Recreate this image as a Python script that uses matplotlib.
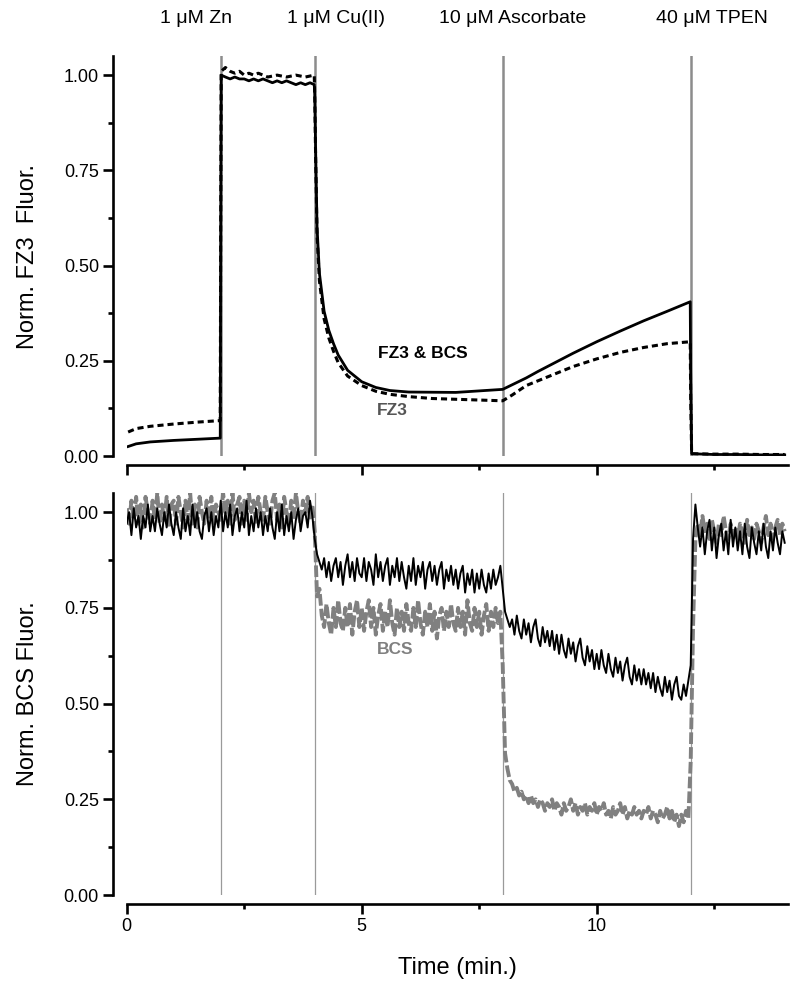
import numpy as np
import matplotlib
matplotlib.use("Agg")
import matplotlib.pyplot as plt
import matplotlib.transforms as mtransforms
from matplotlib.ticker import MultipleLocator, FormatStrFormatter

plt.rcParams['font.family'] = ['Liberation Sans', 'DejaVu Sans']

# ---- top panel: FZ3 fluorescence (smooth traces) ----
fz3_bcs_t = [0.03, 0.2, 0.5, 1.0, 1.5, 1.99,
             2.0, 2.01, 2.1, 2.2, 2.3, 2.4, 2.5, 2.6, 2.7, 2.8, 2.9, 3.0, 3.1, 3.2, 3.3,
             3.4, 3.5, 3.6, 3.7, 3.8, 3.9, 3.99,
             4.0, 4.02, 4.05, 4.1, 4.2, 4.3, 4.4, 4.5, 4.7, 5.0, 5.3, 5.6, 6.0, 7.0, 8.0,
             8.25, 8.5, 8.75, 9.0, 9.5, 10.0, 10.5, 11.0, 11.5, 11.99,
             12.0, 12.02, 12.5, 13.0, 13.5, 14.0]
fz3_bcs_v = [0.025, 0.032, 0.037, 0.041, 0.044, 0.047,
             0.60, 1.00, 0.995, 0.99, 0.995, 0.99, 0.99, 0.985, 0.99, 0.985, 0.99, 0.985, 0.98, 0.985, 0.98,
             0.985, 0.98, 0.975, 0.98, 0.975, 0.98, 0.975,
             0.95, 0.80, 0.60, 0.48, 0.38, 0.33, 0.295, 0.265, 0.225, 0.195, 0.18, 0.172, 0.168, 0.167, 0.175,
             0.19, 0.205, 0.222, 0.238, 0.27, 0.30, 0.328, 0.355, 0.38, 0.405,
             0.20, 0.006, 0.004, 0.004, 0.003, 0.003]

fz3_t = [0.03, 0.2, 0.5, 1.0, 1.5, 1.99,
         2.0, 2.01, 2.1, 2.2, 2.3, 2.4, 2.5, 2.6, 2.7, 2.8, 2.9, 3.0, 3.2, 3.4, 3.6, 3.8, 3.99,
         4.0, 4.02, 4.05, 4.1, 4.2, 4.3, 4.4, 4.5, 4.7, 5.0, 5.3, 5.6, 6.0, 6.5, 7.0, 7.5, 8.0,
         8.2, 8.5, 9.0, 9.5, 10.0, 10.5, 11.0, 11.5, 11.99,
         12.0, 12.02, 12.5, 13.0, 13.5, 14.0]
fz3_v = [0.063, 0.072, 0.078, 0.084, 0.089, 0.093,
         0.60, 1.01, 1.02, 1.01, 1.005, 1.01, 1.00, 1.005, 1.00, 1.005, 1.00, 0.995, 1.00, 0.995, 1.00, 0.995, 1.00,
         0.95, 0.78, 0.58, 0.46, 0.36, 0.31, 0.275, 0.245, 0.21, 0.185, 0.17, 0.162, 0.156, 0.151, 0.149, 0.147, 0.145,
         0.16, 0.185, 0.21, 0.235, 0.255, 0.272, 0.285, 0.295, 0.30,
         0.15, 0.006, 0.005, 0.005, 0.004, 0.004]

# ---- bottom panel: BCS fluorescence, sampled every 0.05 min from 0 to 14 ----
bcs_black = [
    0.97, 1.00, 0.94, 1.01, 0.96, 0.99, 0.93, 0.99, 0.96, 1.02, 0.95, 0.99, 0.95, 1.01, 0.97, 0.94, 1.00, 0.96, 1.02, 0.97,
    0.94, 1.00, 0.96, 0.93, 1.01, 0.95, 0.99, 0.94, 1.02, 0.96, 1.00, 0.95, 0.93, 0.99, 1.01, 0.95, 1.00, 0.94, 0.99, 0.96,
    1.03, 0.95, 1.00, 0.96, 1.02, 0.94, 0.99, 1.01, 0.95, 1.00, 0.96, 1.03, 0.94, 0.99, 0.95, 1.01, 0.96, 1.00, 0.94, 0.99,
    0.95, 1.01, 0.96, 0.93, 1.00, 0.95, 1.02, 0.94, 0.99, 0.95, 1.00, 0.93, 0.98, 1.01, 0.95, 0.99, 1.00, 0.96, 1.03, 0.99,
    0.93, 0.89, 0.87, 0.85, 0.88, 0.83, 0.87, 0.82, 0.86, 0.88, 0.83, 0.87, 0.81, 0.86, 0.89, 0.83, 0.87, 0.82, 0.88, 0.84,
    0.83, 0.88, 0.82, 0.87, 0.85, 0.81, 0.89, 0.83, 0.87, 0.82, 0.86, 0.88, 0.81, 0.86, 0.83, 0.88, 0.82, 0.87, 0.83, 0.80,
    0.86, 0.82, 0.88, 0.81, 0.86, 0.83, 0.87, 0.80, 0.85, 0.87, 0.82, 0.86, 0.81, 0.85, 0.87, 0.80, 0.85, 0.82, 0.86, 0.81,
    0.85, 0.80, 0.84, 0.86, 0.79, 0.84, 0.81, 0.85, 0.79, 0.84, 0.80, 0.85, 0.81, 0.79, 0.84, 0.80, 0.85, 0.81, 0.83, 0.86,
    0.80, 0.74, 0.72, 0.70, 0.72, 0.68, 0.73, 0.69, 0.67, 0.72, 0.68, 0.71, 0.66, 0.70, 0.72, 0.67, 0.65, 0.70, 0.66, 0.69,
    0.65, 0.69, 0.64, 0.68, 0.63, 0.68, 0.64, 0.62, 0.67, 0.63, 0.66, 0.61, 0.65, 0.67, 0.62, 0.60, 0.65, 0.61, 0.64, 0.59,
    0.63, 0.59, 0.64, 0.60, 0.58, 0.63, 0.59, 0.57, 0.62, 0.58, 0.61, 0.56, 0.60, 0.62, 0.57, 0.55, 0.60, 0.56, 0.59, 0.55,
    0.59, 0.55, 0.58, 0.54, 0.58, 0.53, 0.57, 0.54, 0.52, 0.57, 0.53, 0.56, 0.51, 0.55, 0.57, 0.52, 0.51, 0.55, 0.52, 0.56,
    0.60, 0.93, 1.02, 0.96, 0.91, 0.96, 0.89, 0.95, 0.98, 0.90, 0.96, 0.88, 0.94, 0.97, 0.90, 0.95, 0.89, 0.98, 0.91, 0.96,
    0.90, 0.95, 0.89, 0.97, 0.91, 0.88, 0.96, 0.92, 0.89, 0.95, 0.90, 0.97, 0.91, 0.88, 0.95, 0.90, 0.96, 0.92, 0.89, 0.95,
    0.92]

bcs_gray = [
    1.01, 0.97, 1.03, 0.98, 1.04, 0.97, 1.02, 0.96, 1.04, 1.00, 0.97, 1.03, 0.98, 1.05, 0.97, 1.02, 0.98, 1.04, 0.96, 1.02,
    1.03, 0.97, 1.04, 1.00, 0.96, 1.03, 0.98, 1.05, 0.97, 1.02, 0.96, 1.04, 1.00, 0.97, 1.03, 0.98, 1.04, 0.97, 1.02, 1.00,
    0.98, 1.05, 1.00, 1.03, 0.97, 1.05, 0.98, 1.02, 1.04, 0.97, 1.03, 0.98, 1.05, 1.00, 1.03, 0.97, 1.04, 1.00, 0.98, 1.04,
    1.00, 0.97, 1.03, 1.05, 0.98, 1.02, 0.96, 1.04, 1.00, 0.97, 1.03, 0.98, 1.05, 1.00, 0.97, 1.03, 1.00, 1.04, 0.98, 1.02,
    0.95, 0.78, 0.80, 0.73, 0.70, 0.76, 0.71, 0.68, 0.75, 0.70, 0.77, 0.71, 0.69, 0.75, 0.70, 0.76, 0.68, 0.74, 0.77, 0.70,
    0.75, 0.69, 0.74, 0.77, 0.70, 0.75, 0.68, 0.73, 0.76, 0.69, 0.74, 0.70, 0.77, 0.71, 0.68, 0.75, 0.70, 0.74, 0.69, 0.76,
    0.71, 0.69, 0.75, 0.70, 0.77, 0.71, 0.68, 0.74, 0.70, 0.76, 0.69, 0.74, 0.67, 0.73, 0.75, 0.69, 0.74, 0.70, 0.76, 0.71,
    0.69, 0.75, 0.70, 0.74, 0.68, 0.77, 0.71, 0.69, 0.75, 0.70, 0.74, 0.68, 0.73, 0.76, 0.69, 0.74, 0.70, 0.75, 0.71, 0.74,
    0.60, 0.37, 0.33, 0.30, 0.29, 0.27, 0.28, 0.26, 0.27, 0.25, 0.26, 0.24, 0.26, 0.24, 0.25, 0.23, 0.25, 0.24, 0.22, 0.24,
    0.23, 0.25, 0.22, 0.24, 0.23, 0.21, 0.24, 0.22, 0.23, 0.25, 0.22, 0.24, 0.21, 0.23, 0.22, 0.24, 0.21, 0.23, 0.22, 0.24,
    0.21, 0.23, 0.22, 0.24, 0.21, 0.22, 0.20, 0.23, 0.21, 0.22, 0.24, 0.21, 0.23, 0.20, 0.22, 0.21, 0.23, 0.21, 0.22, 0.20,
    0.22, 0.21, 0.23, 0.20, 0.22, 0.21, 0.19, 0.22, 0.20, 0.21, 0.23, 0.20, 0.22, 0.19, 0.21, 0.18, 0.21, 0.19, 0.22, 0.20,
    0.35, 0.70, 0.93, 0.97, 0.94, 0.99, 0.95, 0.97, 0.93, 0.98, 0.95, 0.92, 0.97, 0.94, 0.99, 0.95, 0.93, 0.97, 0.94, 0.96,
    0.93, 0.97, 0.95, 0.92, 0.98, 0.94, 0.96, 0.93, 0.97, 0.95, 0.92, 0.96, 0.99, 0.94, 0.97, 0.93, 0.96, 0.98, 0.94, 0.97,
    0.95]
bcs_t = np.linspace(0, 14, len(bcs_black))

additions_t = [2, 4, 8, 12]
additions = ['1 \u03bcM Zn', '1 \u03bcM Cu(II)', '10 \u03bcM Ascorbate', '40 \u03bcM TPEN']
additions_label_x = [1.48, 4.45, 8.22, 12.45]

fig = plt.figure(figsize=(8, 9.89), dpi=100)
ax1 = fig.add_axes([0.1584, 0.5389, 0.826, 0.4044])
ax2 = fig.add_axes([0.1584, 0.0950, 0.826, 0.4065])

for t in additions_t:
    ax1.axvline(t, color='#8c8c8c', lw=1.8, zorder=1)
    ax2.axvline(t, color='#9a9a9a', lw=0.9, zorder=1)

ax1.plot(fz3_t, fz3_v, color='black', lw=2.2, ls=(0, (2.0, 1.3)), zorder=3)
ax1.plot(fz3_bcs_t, fz3_bcs_v, color='black', lw=2.0, zorder=4)

ax2.plot(bcs_t, bcs_gray, color='#808080', lw=2.8, ls=(0, (3.0, 0.8)), zorder=3)
ax2.plot(bcs_t, bcs_black, color='black', lw=1.4, zorder=4)

ax1.text(6.29, 0.27, 'FZ3 & BCS', fontsize=12.5, fontweight='bold', color='black', ha='center', va='center')
ax1.text(5.32, 0.12, 'FZ3', fontsize=12.5, fontweight='bold', color='#555555', ha='left', va='center')
ax2.text(5.32, 0.64, 'BCS', fontsize=12.5, fontweight='bold', color='#808080', ha='left', va='center')

trans = mtransforms.blended_transform_factory(ax1.transData, fig.transFigure)
for x, lab in zip(additions_label_x, additions):
    ax1.text(x, 0.981, lab, transform=trans, fontsize=14, ha='center', va='center')

for ax in (ax1, ax2):
    ax.set_xlim(0, 14.06)
    ax.set_ylim(0, 1.05)
    ax.spines['top'].set_visible(False)
    ax.spines['right'].set_visible(False)
    ax.spines['left'].set_position(('outward', 10))
    ax.spines['bottom'].set_position(('outward', 6.5))
    ax.spines['left'].set_linewidth(1.9)
    ax.spines['bottom'].set_linewidth(1.9)
    ax.xaxis.set_major_locator(MultipleLocator(5))
    ax.xaxis.set_minor_locator(MultipleLocator(2.5))
    ax.yaxis.set_major_locator(MultipleLocator(0.25))
    ax.yaxis.set_minor_locator(MultipleLocator(0.125))
    ax.tick_params(which='major', direction='out', length=7, width=1.9, labelsize=13, pad=3)
    ax.tick_params(which='minor', direction='out', length=3.5, width=1.9)
    ax.yaxis.set_major_formatter(FormatStrFormatter('%.2f'))

ax1.tick_params(axis='x', which='both', labelbottom=False)
ax1.set_ylabel('Norm. FZ3  Fluor.', fontsize=17)
ax2.set_ylabel('Norm. BCS Fluor.', fontsize=17)
ax1.yaxis.set_label_coords(-0.133, 0.5)
ax2.yaxis.set_label_coords(-0.133, 0.5)
fig.text(457 / 800, 1 - 968 / 989, 'Time (min.)', fontsize=17, ha='center', va='center')

fig.savefig('out.png', dpi=100)
